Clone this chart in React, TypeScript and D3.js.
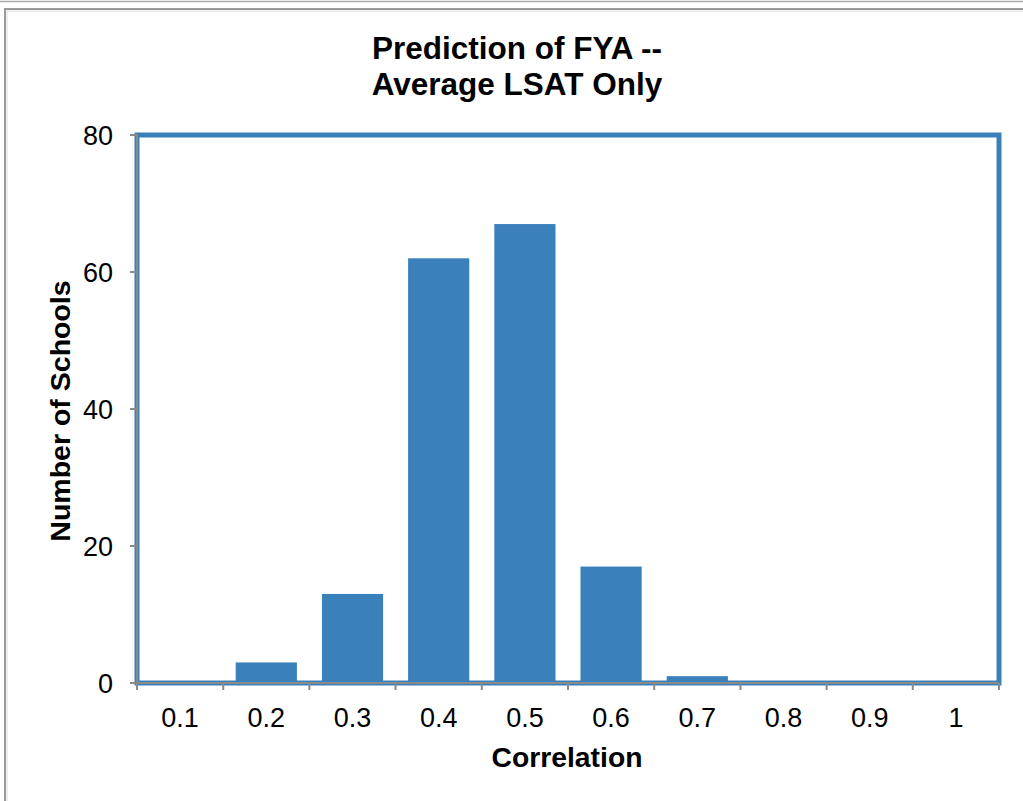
import React from "react";
import * as d3 from "d3";

const categories = ["0.1", "0.2", "0.3", "0.4", "0.5", "0.6", "0.7", "0.8", "0.9", "1"];
const schoolCounts = [0, 3, 13, 62, 67, 17, 1, 0, 0, 0];
const yTicks = [0, 20, 40, 60, 80];
const titleLines = ["Prediction of FYA --", "Average LSAT Only"];
const xLabel = "Correlation";
const yLabel = "Number of Schools";

const W = 1023;
const H = 801;
const left = 137;
const right = 999;
const top = 135;
const bottom = 683;
const font = "'Liberation Sans', Arial, sans-serif";

export default function App() {
  const y = d3.scaleLinear().domain([0, 80]).range([bottom, top]);
  const bins = d3.scaleBand<string>().domain(categories).range([left, right]).padding(0);
  const bars = d3
    .scaleBand<string>()
    .domain(categories)
    .range([left, right])
    .paddingInner(0.29)
    .paddingOuter(0.145);
  const boundaries = categories.map((c) => bins(c) as number).concat([right]);

  return (
    <svg
      width={W}
      height={H}
      viewBox={`0 0 ${W} ${H}`}
      style={{ position: "absolute", left: 0, top: 0, background: "#fff" }}
    >
      <rect x={0} y={0} width={W} height={H} fill="#fff" />
      {/* outer frame */}
      <line x1={0} x2={W} y1={1.5} y2={1.5} stroke="#a8a8a8" strokeWidth={1.5} />
      <path d={`M5,${H} V9 H${W}`} fill="none" stroke="#9a9a9a" strokeWidth={2} />
      <path d={`M7,${H} V11 H${W}`} fill="none" stroke="#dcdcdc" strokeWidth={1} />

      {/* title */}
      <text x={517} y={59} textAnchor="middle" fontFamily={font} fontWeight="bold" fontSize={31.5} fill="#000">
        {titleLines[0]}
      </text>
      <text x={517} y={95} textAnchor="middle" fontFamily={font} fontWeight="bold" fontSize={31.5} fill="#000">
        {titleLines[1]}
      </text>

      {/* plot border */}
      <rect x={left} y={top} width={right - left} height={bottom - top} fill="#fff" stroke="#3a80ba" strokeWidth={5} />

      {/* bars */}
      {categories.map((c, i) => (
        <rect
          key={c}
          x={bars(c)}
          y={y(schoolCounts[i])}
          width={bars.bandwidth()}
          height={bottom - y(schoolCounts[i])}
          fill="#3a80ba"
        />
      ))}

      {/* y axis */}
      <line x1={left} x2={left} y1={top} y2={bottom} stroke="#8a8a8a" strokeWidth={2} />
      {yTicks.map((t) => (
        <g key={t}>
          <line x1={left - 7} x2={left} y1={y(t)} y2={y(t)} stroke="#8a8a8a" strokeWidth={2} />
          <text x={113} y={y(t) + 9.5} textAnchor="end" fontFamily={font} fontSize={27} fill="#000">
            {t}
          </text>
        </g>
      ))}

      {/* x axis */}
      <line x1={left - 7} x2={right} y1={bottom} y2={bottom} stroke="#8a8a8a" strokeWidth={2} />
      {boundaries.map((b, i) => (
        <line key={i} x1={b} x2={b} y1={bottom} y2={bottom + 7} stroke="#8a8a8a" strokeWidth={2} />
      ))}
      {categories.map((c) => (
        <text
          key={c}
          x={(bins(c) as number) + bins.bandwidth() / 2}
          y={727}
          textAnchor="middle"
          fontFamily={font}
          fontSize={27}
          fill="#000"
        >
          {c}
        </text>
      ))}

      {/* axis titles */}
      <text x={567} y={767} textAnchor="middle" fontFamily={font} fontWeight="bold" fontSize={28.3} fill="#000">
        {xLabel}
      </text>
      <text
        transform={`translate(70,${(top + bottom) / 2 + 2}) rotate(-90)`}
        textAnchor="middle"
        fontFamily={font}
        fontWeight="bold"
        fontSize={28.5}
        fill="#000"
      >
        {yLabel}
      </text>
    </svg>
  );
}
